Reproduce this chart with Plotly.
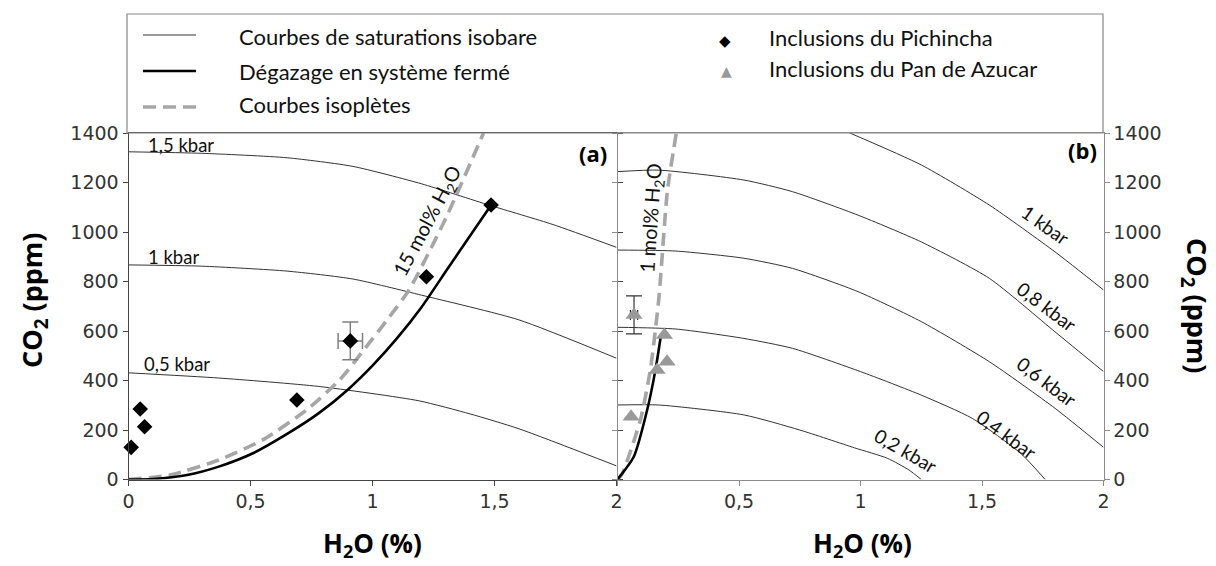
import plotly.graph_objects as go

# ---------------- data ----------------
# Panel (a) : isobaric saturation curves, H2O (%) vs CO2 (ppm)
a_iso15_x = [0, 0.30, 0.65, 0.92, 1.20, 1.48, 1.74, 2.0]
a_iso15_y = [1324, 1318, 1300, 1265, 1195, 1108, 1030, 938]
a_iso10_x = [0, 0.30, 0.65, 0.92, 1.20, 1.60, 2.0]
a_iso10_y = [867, 862, 842, 810, 745, 645, 490]
a_iso05_x = [0, 0.37, 0.78, 1.19, 1.40, 1.60, 2.0]
a_iso05_y = [431, 410, 376, 318, 265, 205, 55]

# Panel (a) : closed-system degassing and 15 mol% H2O isopleth
a_degas_x = [0, 0.10, 0.24, 0.37, 0.51, 0.65, 0.78, 0.90, 1.00, 1.10, 1.20, 1.30, 1.40, 1.48]
a_degas_y = [0, 2, 18, 52, 106, 184, 268, 364, 460, 570, 695, 840, 985, 1100]
a_isopl_x = [0, 0.17, 0.37, 0.55, 0.73, 0.865, 0.975, 1.07, 1.15, 1.30, 1.455]
a_isopl_y = [0, 18, 79, 160, 281, 402, 537, 658, 766, 1055, 1400]

# Pichincha inclusions
pich_x = [0.011, 0.048, 0.066, 0.69, 1.221, 1.486]
pich_y = [130, 285, 213, 321, 819, 1109]
pich_err_x = [0.909]
pich_err_y = [560]
pich_ex = [0.05]
pich_ey = [76]

# Panel (b) : isobaric saturation curves
b_iso02_x = [0, 0.17, 0.52, 0.75, 0.975, 1.11, 1.20, 1.25]
b_iso02_y = [301, 301, 261, 200, 128, 86, 38, 0]
b_iso04_x = [0, 0.24, 0.52, 0.72, 1.00, 1.25, 1.46, 1.66, 1.76]
b_iso04_y = [615, 608, 570, 530, 436, 341, 247, 105, 0]
b_iso06_x = [0, 0.24, 0.52, 0.72, 0.99, 1.25, 1.53, 1.80, 2.0]
b_iso06_y = [927, 923, 894, 853, 759, 638, 476, 288, 130]
b_iso08_x = [0, 0.17, 0.52, 0.72, 0.99, 1.25, 1.53, 1.80, 2.0]
b_iso08_y = [1244, 1250, 1210, 1163, 1068, 960, 813, 597, 436]
b_iso10_x = [0.956, 1.25, 1.53, 1.80, 2.0]
b_iso10_y = [1400, 1271, 1109, 920, 766]

# Panel (b) : closed-system degassing and 1 mol% H2O isopleth
b_degas_x = [0, 0.067, 0.122, 0.156, 0.18]
b_degas_y = [0, 92, 281, 442, 590]
b_isopl_x = [0, 0.02, 0.094, 0.135, 0.17, 0.205, 0.242]
b_isopl_y = [0, 25, 240, 442, 730, 1163, 1400]

# Pan de Azucar inclusions
pan_x = [0.056, 0.193, 0.204, 0.163]
pan_y = [254, 584, 476, 442]
pan_err_x = [0.068]
pan_err_y = [665]
pan_ex = [0.015]
pan_ey = [77]

x_ticks = [0, 0.5, 1, 1.5, 2]
x_labels_a = ["0", "0,5", "1", "1,5", "2"]
x_labels_b = ["", "0,5", "1", "1,5", "2"]
y_ticks = [0, 200, 400, 600, 800, 1000, 1200, 1400]

# ---------------- figure ----------------
OFF = 8                      # page body margin
W, H = 1216 - OFF, 566 - OFF
def px(x):
    return (x - OFF) / W
def py(y):
    return 1 - (y - OFF) / H

ISO = dict(color="#333333", width=1)
DEG = dict(color="black", width=2.6)
DSH = dict(color="#a6a6a6", width=3.6, dash="13px,7px")
SM = 0.6

fig = go.Figure()

for xs, ys in [(a_iso15_x, a_iso15_y), (a_iso10_x, a_iso10_y), (a_iso05_x, a_iso05_y)]:
    fig.add_trace(go.Scatter(x=xs, y=ys, mode="lines", line=dict(shape="spline", smoothing=SM, **ISO),
                             xaxis="x", yaxis="y", showlegend=False))
fig.add_trace(go.Scatter(x=a_isopl_x, y=a_isopl_y, mode="lines", line=dict(shape="spline", smoothing=SM, **DSH),
                         xaxis="x", yaxis="y", showlegend=False))
fig.add_trace(go.Scatter(x=a_degas_x, y=a_degas_y, mode="lines", line=dict(shape="spline", smoothing=SM, **DEG),
                         xaxis="x", yaxis="y", showlegend=False))
fig.add_trace(go.Scatter(x=pich_x, y=pich_y, mode="markers", cliponaxis=False,
                         marker=dict(symbol="diamond", size=12, color="black"),
                         xaxis="x", yaxis="y", showlegend=False))
fig.add_trace(go.Scatter(x=pich_err_x, y=pich_err_y, mode="markers", cliponaxis=False,
                         marker=dict(symbol="diamond", size=12, color="black"),
                         error_x=dict(type="data", array=pich_ex, color="#808080", thickness=1.5, width=8),
                         error_y=dict(type="data", array=pich_ey, color="#808080", thickness=1.5, width=8),
                         xaxis="x", yaxis="y", showlegend=False))

for xs, ys in [(b_iso02_x, b_iso02_y), (b_iso04_x, b_iso04_y), (b_iso06_x, b_iso06_y),
               (b_iso08_x, b_iso08_y), (b_iso10_x, b_iso10_y)]:
    fig.add_trace(go.Scatter(x=xs, y=ys, mode="lines", line=dict(shape="spline", smoothing=SM, **ISO),
                             xaxis="x2", yaxis="y2", showlegend=False))
fig.add_trace(go.Scatter(x=b_isopl_x, y=b_isopl_y, mode="lines", line=dict(shape="spline", smoothing=SM, **DSH),
                         xaxis="x2", yaxis="y2", showlegend=False))
fig.add_trace(go.Scatter(x=b_degas_x, y=b_degas_y, mode="lines", line=dict(shape="spline", smoothing=SM, **DEG),
                         xaxis="x2", yaxis="y2", showlegend=False))
fig.add_trace(go.Scatter(x=pan_x, y=pan_y, mode="markers", cliponaxis=False,
                         marker=dict(symbol="triangle-up", size=15, color="#999999"),
                         xaxis="x2", yaxis="y2", showlegend=False))
fig.add_trace(go.Scatter(x=pan_err_x, y=pan_err_y, mode="markers", cliponaxis=False,
                         marker=dict(symbol="triangle-up", size=15, color="#999999"),
                         error_x=dict(type="data", array=pan_ex, color="#333333", thickness=1.2, width=5),
                         error_y=dict(type="data", array=pan_ey, color="#333333", thickness=1.2, width=8),
                         xaxis="x2", yaxis="y2", showlegend=False))

TICKFONT = dict(family="DejaVu Sans", size=19, color="#333333")
xa_dom = [px(128.5), px(616.5)]
xb_dom = [px(617.5), px(1103.5)]
y_dom = [py(479.5), py(133)]

common = dict(showgrid=False, zeroline=False, showline=True, ticks="outside", ticklen=5,
              tickfont=TICKFONT, tickwidth=1, automargin=False)
fig.update_layout(
    template="none",
    width=W, height=H, margin=dict(l=0, r=0, t=0, b=0, pad=0), autosize=False,
    paper_bgcolor="white", plot_bgcolor="rgba(0,0,0,0)", showlegend=False,
    xaxis=dict(domain=xa_dom, range=[0, 2], tickvals=x_ticks, ticktext=x_labels_a, anchor="y",
               linecolor="#444444", tickcolor="#444444", mirror=True, **common),
    yaxis=dict(domain=y_dom, range=[0, 1400], tickvals=y_ticks, anchor="x",
               linecolor="#444444", tickcolor="#444444", mirror="ticks", **common),
    xaxis2=dict(domain=xb_dom, range=[0, 2], tickvals=x_ticks, ticktext=x_labels_b, anchor="y2",
                linecolor="#8c8c8c", tickcolor="#8c8c8c", mirror=True, **common),
    yaxis2=dict(domain=y_dom, range=[0, 1400], tickvals=y_ticks, anchor="x2", side="right",
                linecolor="#8c8c8c", tickcolor="#8c8c8c", mirror="ticks", **common),
)

ann = []
def add_text(text, x, y, size, family="Lato", angle=0, bold=False, color="#111111"):
    ann.append(dict(text=("<b>%s</b>" % text) if bold else text, x=px(x), y=py(y), xref="paper", yref="paper",
                    xanchor="center", yanchor="middle", showarrow=False, textangle=angle,
                    font=dict(family=family, size=size, color=color)))

# curve labels
add_text("1,5 kbar", 180.5, 145, 18.5)
add_text("1 kbar", 173, 257.5, 18.5)
add_text("0,5 kbar", 176.7, 364, 18.5)
add_text("15 mol% H<sub>2</sub>O", 428, 222, 20, angle=-62)
add_text("1 mol% H<sub>2</sub>O", 651, 218, 20, angle=-86)
add_text("1 kbar", 1045, 225, 19, angle=35)
add_text("0,8 kbar", 1047, 306, 19, angle=37)
add_text("0,6 kbar", 1047, 381, 19, angle=37)
add_text("0,4 kbar", 1007, 434, 19, angle=36)
add_text("0,2 kbar", 906, 450, 19, angle=30)
add_text("(a)", 593, 153, 22, family="Open Sans", bold=True, color="black")
add_text("(b)", 1082, 150, 22, family="Open Sans", bold=True, color="black")

# axis titles
add_text("H<sub>2</sub>O (%)", 372, 544, 26, family="Open Sans", bold=True, color="black")
add_text("H<sub>2</sub>O (%)", 862, 544, 26, family="Open Sans", bold=True, color="black")
add_text("CO<sub>2</sub> (ppm)", 33, 300, 27, family="Open Sans", angle=-90, bold=True, color="black")
add_text("CO<sub>2</sub> (ppm)", 1196, 306, 27, family="Open Sans", angle=90, bold=True, color="black")

# legend
def add_leg(text, x, y):
    ann.append(dict(text=text, x=px(x), y=py(y), xref="paper", yref="paper", xanchor="left",
                    yanchor="middle", showarrow=False, font=dict(family="Lato", size=22, color="#111111")))
add_leg("Courbes de saturations isobare", 236.5, 37)
add_leg("Dégazage en système fermé", 236.5, 71)
add_leg("Courbes isoplètes", 236.5, 104)
add_leg("Inclusions du Pichincha", 766.5, 38)
add_leg("Inclusions du Pan de Azucar", 766.5, 68)
ann.append(dict(text="◆", x=px(725), y=py(41), xref="paper", yref="paper", xanchor="center", yanchor="middle",
                showarrow=False, font=dict(family="DejaVu Sans", size=15, color="black")))
ann.append(dict(text="▲", x=px(726.5), y=py(71), xref="paper", yref="paper", xanchor="center", yanchor="middle",
                showarrow=False, font=dict(family="DejaVu Sans", size=14, color="#999999")))
fig.update_layout(annotations=ann)

shapes = [
    dict(type="rect", xref="paper", yref="paper", x0=px(127), x1=px(1103), y0=py(133), y1=py(14),
         line=dict(color="#888888", width=1.2)),
    dict(type="line", xref="paper", yref="paper", x0=px(143), x1=px(196), y0=py(35), y1=py(35),
         line=dict(color="#333333", width=1)),
    dict(type="line", xref="paper", yref="paper", x0=px(143), x1=px(196), y0=py(71), y1=py(71),
         line=dict(color="black", width=2.6)),
    dict(type="line", xref="paper", yref="paper", x0=px(143), x1=px(196), y0=py(107), y1=py(107),
         line=dict(color="#a6a6a6", width=3.6, dash="13px,7px")),
]
fig.update_layout(shapes=shapes)

fig.write_html("out.html")
